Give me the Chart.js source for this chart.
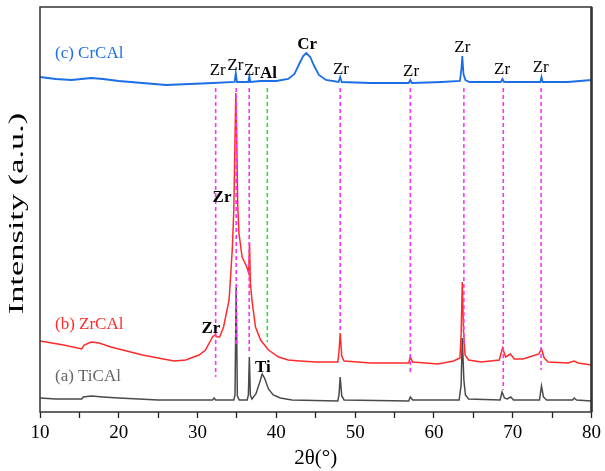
<!DOCTYPE html>
<html lang="en">
<head>
<meta charset="UTF-8">
<title>XRD patterns</title>
<script src="https://cdn.jsdelivr.net/npm/chart.js@4.4.1/dist/chart.umd.min.js"></script>
<style>
  html, body { margin: 0; padding: 0; background: #fff; }
  canvas { display: block; }
</style>
</head>
<body>
<canvas id="xrd" width="605" height="471"></canvas>
<script>
// 2theta positions and intensities (arbitrary units)
const tiTheta = [10.0, 12.0, 15.3, 15.5, 16.5, 18.0, 20.0, 25.0, 30.0, 31.9, 32.1, 32.3, 34.6, 34.75, 34.9, 35.05, 35.3,
  36.3, 36.45, 36.57, 36.7, 36.9, 37.4, 37.9, 38.2, 38.5, 39.0, 39.6, 40.5, 42.0, 47.8, 47.95, 48.1, 48.3, 48.6,
  56.8, 57.0, 57.3, 63.2, 63.45, 63.6, 63.8, 64.0, 64.4, 68.4, 68.65, 68.95, 69.3, 69.75, 70.1, 73.4, 73.65, 73.9,
  74.3, 77.6, 77.8, 78.1, 80.0];
const tiCounts = [14, 13, 13, 15, 16, 15, 14, 12, 12, 12, 14, 12, 12, 17, 125, 16, 12,
  12, 17, 55, 17, 13, 18, 30, 38, 34, 23, 17, 14, 12, 11, 17, 35, 16, 12,
  11, 15, 12, 12, 27, 74, 32, 17, 13, 12, 20, 14, 13, 15, 12, 12, 26, 15,
  12, 12, 14, 12, 11];

const zrTheta = [10.0, 11.5, 13.0, 15.3, 15.6, 16.5, 17.5, 19.0, 21.0, 23.0, 25.0, 27.0, 28.5, 29.5, 30.2, 31.0,
  31.9, 32.2, 32.5, 32.8, 33.3, 34.0, 34.4, 34.6, 34.75, 34.85, 34.95, 35.1, 35.25, 35.65, 36.25, 36.48, 36.6,
  36.7, 36.9, 37.35, 38.0, 39.0, 40.3, 41.5, 43.0, 45.0, 47.8, 47.95, 48.1, 48.3, 48.6, 52.0, 56.8, 57.0, 57.3,
  60.5, 62.5, 63.3, 63.45, 63.6, 63.75, 63.95, 64.4, 66.0, 68.3, 68.7, 69.1, 69.7, 70.2, 71.3, 72.5, 73.3,
  73.65, 74.0, 74.5, 77.0, 77.8, 78.3, 80.0];
const zrCounts = [71, 69, 67, 63, 67, 70, 69, 65, 61, 57, 54, 51, 52, 55, 57, 62,
  75, 77, 75, 75, 85, 112, 162, 202, 272, 319, 282, 207, 179, 155, 145, 139, 169,
  129, 112, 85, 72, 62, 55, 52, 51, 50, 50, 60, 79, 56, 51, 49, 49, 55, 50,
  48, 51, 54, 77, 130, 82, 57, 52, 50, 52, 64, 55, 58, 53, 53, 56, 58,
  63, 54, 50, 49, 51, 49, 47];

const crTheta = [10.0, 12.0, 14.0, 16.5, 18.0, 20.0, 23.0, 26.0, 29.0, 32.0, 34.7, 34.85, 35.0, 36.45, 36.57, 36.7,
  38.0, 40.0, 41.5, 42.3, 42.9, 43.4, 43.8, 44.3, 44.8, 45.4, 46.3, 47.9, 48.1, 48.3, 52.0, 56.8, 57.0, 57.2,
  61.0, 63.3, 63.5, 63.6, 63.75, 64.0, 64.5, 68.5, 68.7, 68.9, 73.5, 73.65, 73.8, 77.0, 80.0];
const crCounts = [335, 333, 332, 334, 333, 331, 329, 327, 328, 329, 330, 339, 330, 330, 336, 330,
  331, 331, 333, 338, 348, 356, 359, 355, 346, 337, 332, 330, 335, 330, 329, 329, 332, 329,
  330, 331, 344, 356, 338, 332, 330, 330, 333, 330, 330, 335, 330, 330, 332];

// reference lines
const zrRefTheta = [32.3, 34.9, 36.55, 48.1, 57.0, 63.8, 68.8, 73.6];
const zrRefBottom = [35, 67, 59, 79, 37, 67, 22, 42];
const alRefTheta = [38.85];
const alRefBottom = [70];
const refTop = 324;

// tick labels on the 2theta axis
const xTickLabels = [10, 20, 30, 40, 50, 60, 70, 80];

// peak labels
const peakText = ['Zr', 'Zr', 'Zr', 'Al', 'Cr', 'Zr', 'Zr', 'Zr', 'Zr', 'Zr', 'Zr', 'Zr', 'Ti'];
const peakTheta = [32.55, 34.8, 36.9, 39.0, 43.9, 48.2, 57.1, 63.6, 68.65, 73.55, 33.1, 31.7, 38.3];
const peakLevel = [341, 346, 341, 338, 367, 342, 340, 364, 342, 344, 214, 83, 44];
const peakBold = [false, false, false, true, true, false, false, false, false, false, true, true, true];

const seriesNames = ['(c) CrCAl', '(b) ZrCAl', '(a) TiCAl'];
const seriesColors = ['#1b6ee6', '#ff2b2b', '#4a4a4a'];
const seriesLabelLevel = [358, 87, 35];

function pairs(xs, ys) {
    return xs.map((x, i) => ({ x: x, y: ys[i] }));
}

const refSets = [];
zrRefTheta.forEach((t, i) => {
    refSets.push({
        data: [{ x: t, y: refTop }, { x: t, y: zrRefBottom[i] }],
        borderColor: '#ff33ff', borderWidth: 1.6, borderDash: [4, 3]
    });
});
alRefTheta.forEach((t, i) => {
    refSets.push({
        data: [{ x: t, y: refTop }, { x: t, y: alRefBottom[i] }],
        borderColor: '#33dd33', borderWidth: 1.6, borderDash: [4, 3]
    });
});

const serif = "'Liberation Serif', 'Times New Roman', Times, serif";

// frame, y title + text labels
const decorPlugin = {
    id: 'decor',
    afterDatasetsDraw(chart) {
        const { ctx, chartArea, scales } = chart;
        ctx.save();
        ctx.textAlign = 'center';
        ctx.textBaseline = 'middle';
        peakText.forEach((t, i) => {
            ctx.font = (peakBold[i] ? 'bold ' : '') + '17px ' + serif;
            ctx.fillStyle = '#000';
            ctx.fillText(t, scales.x.getPixelForValue(peakTheta[i]), scales.y.getPixelForValue(peakLevel[i]));
        });
        ctx.textAlign = 'left';
        ctx.font = '17px ' + serif;
        seriesNames.forEach((n, i) => {
            ctx.fillStyle = i === 2 ? '#666' : seriesColors[i];
            ctx.fillText(n, scales.x.getPixelForValue(11.9), scales.y.getPixelForValue(seriesLabelLevel[i]));
        });

        // y axis title, stretched along its baseline like the original
        ctx.save();
        ctx.translate(18, (chartArea.top + chartArea.bottom) / 2 + 4);
        ctx.rotate(-Math.PI / 2);
        ctx.scale(1.72, 1);
        ctx.textAlign = 'center';
        ctx.fillStyle = '#000';
        ctx.font = '20px ' + serif;
        ctx.fillText('Intensity (a.u.)', 0, 0);
        ctx.restore();

        ctx.strokeStyle = '#333';
        ctx.lineWidth = 1.5;
        ctx.strokeRect(chartArea.left, chartArea.top, chartArea.right - chartArea.left, chartArea.bottom - chartArea.top);
        ctx.lineWidth = 2.5;
        ctx.beginPath();
        ctx.moveTo(chartArea.right, chartArea.top);
        ctx.lineTo(chartArea.right, chartArea.bottom);
        ctx.stroke();
        ctx.restore();
    }
};

new Chart(document.getElementById('xrd').getContext('2d'), {
    type: 'line',
    data: {
        datasets: [
            ...refSets,
            { label: seriesNames[2], data: pairs(tiTheta, tiCounts), borderColor: seriesColors[2], borderWidth: 1.5 },
            { label: seriesNames[1], data: pairs(zrTheta, zrCounts), borderColor: seriesColors[1], borderWidth: 1.5 },
            { label: seriesNames[0], data: pairs(crTheta, crCounts), borderColor: seriesColors[0], borderWidth: 1.8 }
        ]
    },
    options: {
        responsive: false,
        animation: false,
        devicePixelRatio: 1,
        layout: { padding: { top: 7, right: 10, left: 0, bottom: 0 } },
        elements: { point: { radius: 0 }, line: { tension: 0 } },
        plugins: { legend: { display: false }, tooltip: { enabled: false } },
        scales: {
            x: {
                type: 'linear', min: 10, max: 80,
                afterFit: (s) => { s.height = 59; },
                ticks: {
                    stepSize: 5, autoSkip: false, maxRotation: 0, padding: 4,
                    color: '#000', font: { family: serif, size: 19 },
                    callback: (v) => xTickLabels.includes(v) ? String(v) : ''
                },
                grid: { drawOnChartArea: false, drawTicks: true, tickLength: 6, tickColor: '#222', tickWidth: 1.3 },
                border: { display: false },
                title: { display: true, text: '2θ(°)', color: '#000', font: { family: serif, size: 21 }, padding: { top: 0, bottom: 0 } }
            },
            y: {
                min: 0, max: 405,
                afterFit: (s) => { s.width = 40; },
                ticks: { display: false },
                grid: { display: false },
                border: { display: false },
                title: { display: false }
            }
        }
    },
    plugins: [decorPlugin]
});
</script>
</body>
</html>
